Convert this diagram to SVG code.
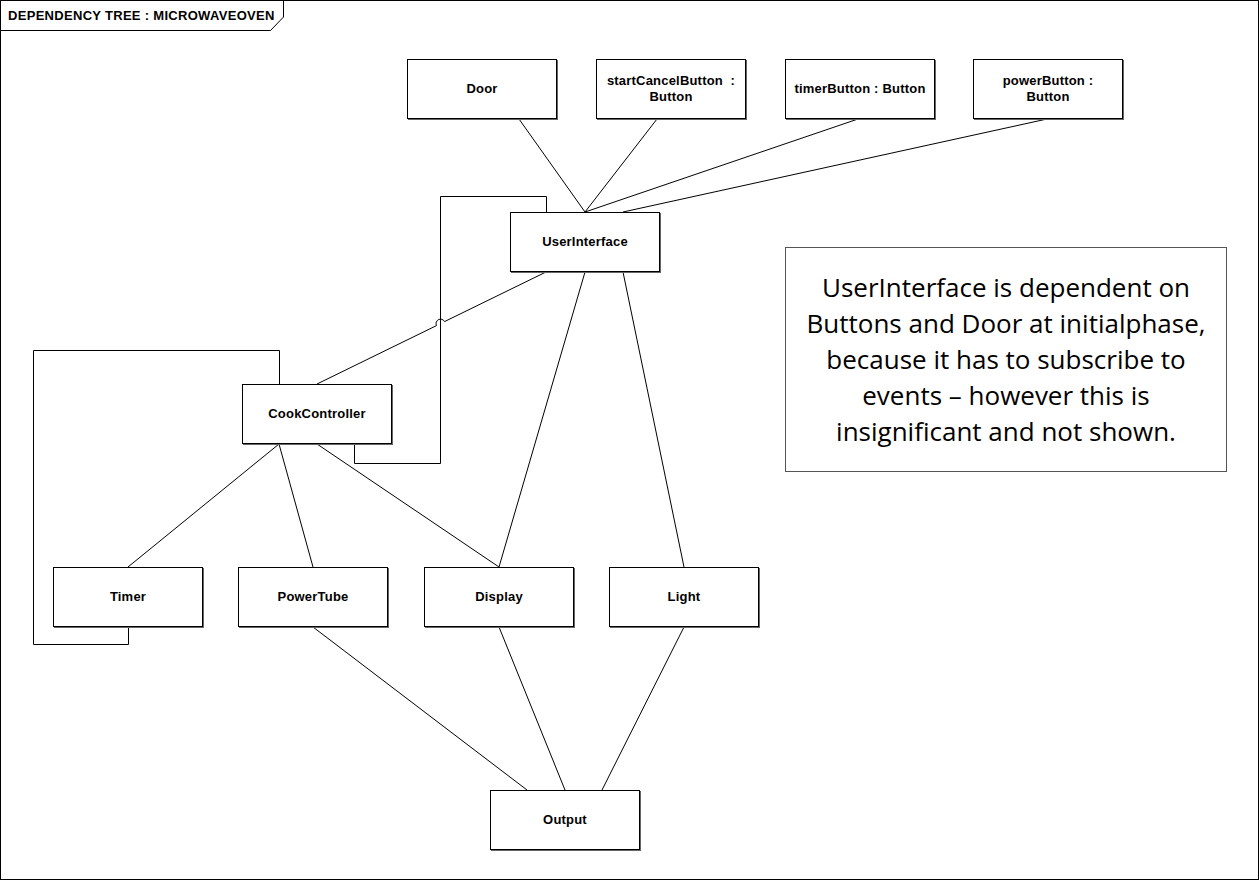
<svg xmlns="http://www.w3.org/2000/svg" width="1259" height="880" viewBox="0 0 1259 880">
<style>
.box{fill:#fff;stroke:#000;stroke-width:1}
.sh{fill:#666}
.lbl{font-family:"Liberation Sans",Arial,sans-serif;font-size:13px;font-weight:bold;text-anchor:middle;fill:#000;letter-spacing:0.2px}
.con{fill:none;stroke:#000;stroke-width:1}
.note{font-family:"Open Sans","Liberation Sans",sans-serif;font-size:26px;text-anchor:middle;fill:#000}
</style>
<rect x="0.5" y="0.5" width="1258" height="879" fill="#fff" stroke="#000"/>
<g id="title">
<polygon points="0.5,0.5 283.5,0.5 283.5,17 270.5,30.5 0.5,30.5" fill="#fff" stroke="#000"/>
<text x="8" y="20" font-family="Liberation Sans, Arial, sans-serif" font-size="13" font-weight="bold" letter-spacing="0.3">DEPENDENCY TREE : MICROWAVEOVEN</text>
</g>
<g id="connectors">
<line class="con" x1="519" y1="119" x2="585" y2="212"/>
<line class="con" x1="657" y1="119" x2="585" y2="212"/>
<line class="con" x1="858" y1="119" x2="585" y2="212"/>
<line class="con" x1="1047" y1="119" x2="623" y2="212"/>
<path class="con" d="M546,272 L444.5,321.6 A4,4 0 0 0 436.5,325.6 L317,384"/>
<line class="con" x1="585" y1="272" x2="499" y2="567"/>
<line class="con" x1="623" y1="272" x2="684" y2="567"/>
<polyline class="con" points="354.5,444 354.5,463.5 440.5,463.5 440.5,196.5 546.5,196.5 546.5,212"/>
<polyline class="con" points="279.5,384 279.5,350.5 33.5,350.5 33.5,644.5 128.5,644.5 128.5,627"/>
<line class="con" x1="279" y1="444" x2="128" y2="567"/>
<line class="con" x1="279" y1="444" x2="313" y2="567"/>
<line class="con" x1="317" y1="444" x2="499" y2="567"/>
<line class="con" x1="313" y1="627" x2="527" y2="790"/>
<line class="con" x1="499" y1="627" x2="565" y2="790"/>
<line class="con" x1="684" y1="627" x2="602" y2="790"/>
</g>
<g id="door"><rect class="sh" x="408" y="60" width="150" height="60"/><rect class="box" x="407.5" y="59.5" width="149" height="59"/><text class="lbl" x="482" y="93">Door</text></g>
<g id="startCancelButton"><rect class="sh" x="597" y="60" width="150" height="60"/><rect class="box" x="596.5" y="59.5" width="149" height="59"/><text class="lbl" x="671" y="85">startCancelButton &#160;:</text><text class="lbl" x="671" y="101">Button</text></g>
<g id="timerButton"><rect class="sh" x="786" y="60" width="150" height="60"/><rect class="box" x="785.5" y="59.5" width="149" height="59"/><text class="lbl" x="860" y="93">timerButton : Button</text></g>
<g id="powerButton"><rect class="sh" x="974" y="60" width="150" height="60"/><rect class="box" x="973.5" y="59.5" width="149" height="59"/><text class="lbl" x="1048" y="85">powerButton :</text><text class="lbl" x="1048" y="101">Button</text></g>
<g id="userInterface"><rect class="sh" x="511" y="213" width="150" height="60"/><rect class="box" x="510.5" y="212.5" width="149" height="59"/><text class="lbl" x="585" y="246">UserInterface</text></g>
<g id="cookController"><rect class="sh" x="243" y="385" width="150" height="60"/><rect class="box" x="242.5" y="384.5" width="149" height="59"/><text class="lbl" x="317" y="418">CookController</text></g>
<g id="timer"><rect class="sh" x="54" y="568" width="150" height="60"/><rect class="box" x="53.5" y="567.5" width="149" height="59"/><text class="lbl" x="128" y="601">Timer</text></g>
<g id="powerTube"><rect class="sh" x="239" y="568" width="150" height="60"/><rect class="box" x="238.5" y="567.5" width="149" height="59"/><text class="lbl" x="313" y="601">PowerTube</text></g>
<g id="display"><rect class="sh" x="425" y="568" width="150" height="60"/><rect class="box" x="424.5" y="567.5" width="149" height="59"/><text class="lbl" x="499" y="601">Display</text></g>
<g id="light"><rect class="sh" x="610" y="568" width="150" height="60"/><rect class="box" x="609.5" y="567.5" width="149" height="59"/><text class="lbl" x="684" y="601">Light</text></g>
<g id="output"><rect class="sh" x="491" y="791" width="150" height="60"/><rect class="box" x="490.5" y="790.5" width="149" height="59"/><text class="lbl" x="565" y="824">Output</text></g>
<g id="note">
<rect x="785.5" y="247.5" width="441" height="224" fill="#fff" stroke="#555"/>
<text class="note" x="1006" y="297">UserInterface is dependent on</text>
<text class="note" x="1006" y="333">Buttons and Door at initialphase,</text>
<text class="note" x="1006" y="369">because it has to subscribe to</text>
<text class="note" x="1006" y="405">events – however this is</text>
<text class="note" x="1006" y="441">insignificant and not shown.</text>
</g>
</svg>
